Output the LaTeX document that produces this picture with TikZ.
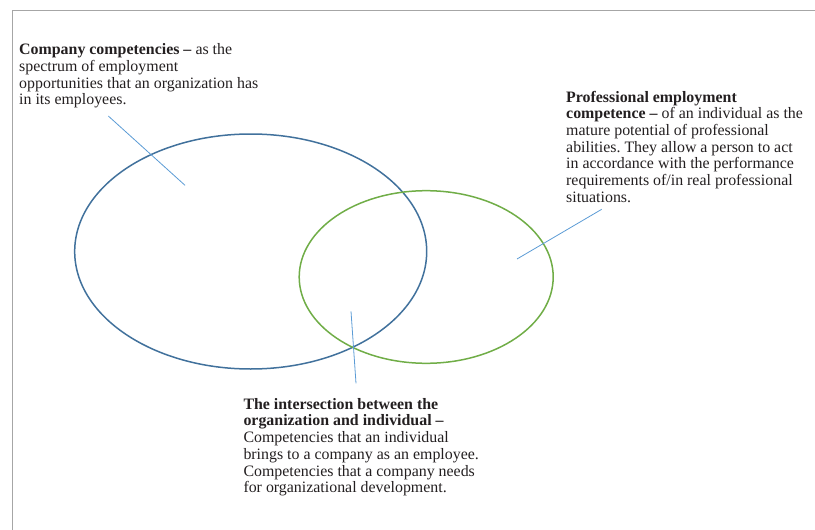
\documentclass[tikz,border=0pt]{standalone}
\usepackage{fontspec}
\setmainfont{Liberation Serif}
\usetikzlibrary{shapes.geometric}
\definecolor{framegray}{HTML}{A6A6A6}
\definecolor{ellblue}{HTML}{41719C}
\definecolor{ellgreen}{HTML}{70AD47}
\definecolor{callblue}{HTML}{5B9BD5}
\definecolor{txt}{HTML}{231F20}
\tikzset{
  frameline/.style={draw=framegray, line width=1.4pt},
  setA/.style={ellipse, draw=ellblue, line width=1.5pt, inner sep=0pt},
  setB/.style={ellipse, draw=ellgreen, line width=1.5pt, inner sep=0pt},
  callout/.style={draw=callblue, line width=0.8pt},
  label/.style={anchor=north west, inner sep=0pt, align=left, text=txt,
    font=\fontsize{15.9}{16.7}\selectfont\frenchspacing}
}
\begin{document}
\begin{tikzpicture}[x=1pt, y=-1pt]
\useasboundingbox (0,0) rectangle (815,530);
\draw[frameline] (12.3,531) -- (12.3,10.7) -- (816,10.7);
% sets
\node[setA, minimum width=352pt, minimum height=235pt] (company) at (250.7,251.5) {};
\node[setB, minimum width=254pt, minimum height=172.6pt] (individual) at (426.2,277) {};
% labels
\node[label] (lblA) at (19,43.6) {\textbf{Company competencies –} as the\\spectrum of employment\\opportunities that an organization has\\in its employees.};
\node[label] (lblB) at (566,90.8) {\textbf{Professional employment}\\\textbf{competence –} of an individual as the\\mature potential of professional\\abilities. They allow a person to act\\in accordance with the performance\\requirements of/in real professional\\situations.};
\node[label] (lblC) at (243.3,398) {\textbf{The intersection between the}\\\textbf{organization and individual –}\\Competencies that an individual\\brings to a company as an employee.\\Competencies that a company needs\\for organizational development.};
% callout end points
\coordinate (cA1) at (108.3,116);
\coordinate (cA2) at (185,185.3);
\coordinate (cB1) at (601.7,209.3);
\coordinate (cB2) at (517,259);
\coordinate (cC1) at (351,311.3);
\coordinate (cC2) at (356,383.3);
\draw[callout] (cA1) -- (cA2);
\draw[callout] (cB1) -- (cB2);
\draw[callout] (cC1) -- (cC2);
\end{tikzpicture}
\end{document}
